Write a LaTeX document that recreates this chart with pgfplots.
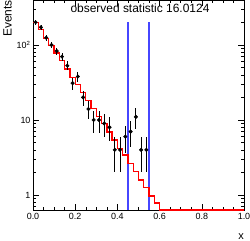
\documentclass[border=0pt]{standalone}
\usepackage{fontspec}
\setmainfont{Liberation Sans}
\usepackage{pgfplots}
\usepackage{pgfplotstable}
\pgfplotsset{compat=1.18}
\definecolor{rootred}{RGB}{255,0,0}
\definecolor{rootblue}{RGB}{70,70,255}
\pgfplotstableread{
x y e
0.0125 201 14.2
0.0375 172 13.1
0.0625 125 11.2
0.0875 100 10.0
0.1125 83 9.1
0.1375 70 8.4
0.1625 53 7.3
0.1875 31 5.6
0.2125 38 6.2
0.2375 20 4.5
0.2625 14 3.7
0.2875 10 3.2
0.3125 10 3.2
0.3375 9 3.0
0.3625 8 2.8
0.3875 4 2.0
0.4125 4 2.0
0.4375 6 2.4
0.4625 7 2.6
0.4875 11 3.3
0.5125 4 2.0
0.5375 4 2.0
}\datatable
\pgfplotstableread{
x y
0.000 200
0.025 162
0.050 123
0.075 98
0.100 78
0.125 62
0.150 48
0.175 37
0.200 30
0.225 23.5
0.250 18.2
0.275 14.2
0.300 11.2
0.325 8.9
0.350 6.9
0.375 5.4
0.400 4.2
0.425 3.4
0.450 2.64
0.475 2.05
0.500 1.58
0.525 1.27
0.550 0.97
0.575 0.78
0.600 0.631
1.000 0.631
}\fittable
\begin{document}
\begin{tikzpicture}
\begin{axis}[name=ax, scale only axis, width=211bp, height=210bp,
  xmin=0, xmax=1, ymode=log, ymin=0.631, ymax=398,
  xtick={0,0.2,0.4,0.6,0.8,1}, xticklabels={0.0,0.2,0.4,0.6,0.8,1.0},
  minor x tick num=3,
  ytick={1,10,100}, yticklabels={1,10,10\textsuperscript{2}},
  minor ytick={0.7,0.8,0.9,2,3,4,5,6,7,8,9,20,30,40,50,60,70,80,90,200,300},
  tick align=inside, xtick pos=both, ytick pos=both,
  xticklabel pos=lower, yticklabel pos=left,
  major tick length=6bp, minor tick length=3bp,
  tick style={black, line width=0.5pt},
  every tick label/.append style={font=\fontsize{9}{9}\selectfont},
  yticklabel style={xshift=1bp},
  /pgf/number format/assume math mode=true,
  axis line style={line width=0.6pt},
  clip=true]
\addplot[draw=rootblue, line width=1.2bp, forget plot] coordinates {(0.45,0.631) (0.45,203)};
\addplot[draw=rootblue, line width=1.2bp, forget plot] coordinates {(0.55,0.631) (0.55,203)};
\addplot[draw=rootred, line width=1.3bp, const plot mark left, forget plot] table[x=x,y=y] {\fittable};
\addplot[black, only marks, mark=*, mark size=1.8bp,
  error bars/.cd, y dir=both, y explicit, error mark=none,
  error bar style={line width=0.8pt, black}]
  table[x=x, y=y, y error=e] {\datatable};
\node[font=\fontsize{12}{12}\selectfont] at (rel axis cs:0.507,0.962) {observed statistic 16.0124};
\end{axis}
\node[rotate=90, anchor=south east, inner sep=0pt, font=\fontsize{12}{12}\selectfont] at ([xshift=-21bp]ax.north west) {Events};
\node[font=\fontsize{11}{11}\selectfont] at ([xshift=-3bp,yshift=-27bp]ax.south east) {x};
\pgfresetboundingbox
\path ([xshift=-33bp,yshift=-31bp]ax.south west) rectangle ([xshift=6bp]ax.north east);
\end{tikzpicture}
\end{document}
